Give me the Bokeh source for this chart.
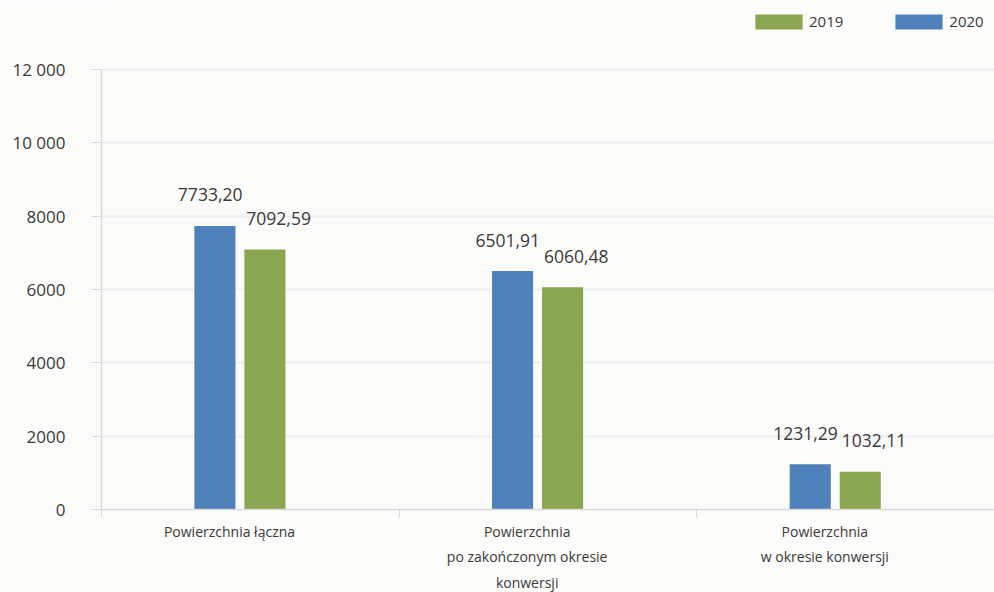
import numpy as np
from bokeh.plotting import figure
from bokeh.models import (ColumnDataSource, Range1d, FixedTicker, Legend, LegendItem)
from bokeh.transform import dodge
from bokeh.core.properties import value
from bokeh.embed import file_html
from bokeh.resources import INLINE

categories = ["Powierzchnia łączna",
              "Powierzchnia\npo zakończonym okresie\nkonwersji",
              "Powierzchnia\nw okresie konwersji"]
values_2020 = [7733.20, 6501.91, 1231.29]
values_2019 = [7092.59, 6060.48, 1032.11]
y_ticks = [0, 2000, 4000, 6000, 8000, 10000, 12000]
y_tick_labels = ["0", "2000", "4000", "6000", "8000", "10 000", "12 000"]
series_names = ["2019", "2020"]

BLUE = "#4f81bb"
GREEN = "#8ba651"
FONT = "Open Sans"
TXT = "#3a3a3a"

idx = np.arange(len(categories)) + 0.5
fmt = lambda v: f"{v:.2f}".replace(".", ",")
src = ColumnDataSource(dict(
    idx=idx,
    v2020=values_2020, v2019=values_2019,
    l2020=[fmt(v) for v in values_2020],
    l2019=[fmt(v) for v in values_2019],
))

FH = 509
y_top = 12000 * FH / 440.0

p = figure(width=994, height=592, output_backend="svg", toolbar_location=None,
           x_range=Range1d(0, len(categories)), y_range=Range1d(0, y_top),
           frame_width=893, frame_height=FH,
           min_border_left=101, min_border_right=0, min_border_top=0, min_border_bottom=83)
p.outline_line_color = None
p.background_fill_color = "#fbfbf9"
p.border_fill_color = "#fbfbf9"

r20 = p.vbar(x=dodge("idx", -0.119, range=p.x_range), top="v2020", width=0.138, source=src,
             fill_color=BLUE, line_color=None)
r19 = p.vbar(x=dodge("idx", 0.049, range=p.x_range), top="v2019", width=0.138, source=src,
             fill_color=GREEN, line_color=None)

p.text(x=dodge("idx", -0.135, range=p.x_range), y="v2020", text="l2020", source=src,
       y_offset=-31, text_align="center", text_baseline="middle",
       text_font=value(FONT), text_font_size="17.5px", text_color=TXT)
p.text(x=dodge("idx", 0.095, range=p.x_range), y="v2019", text="l2019", source=src,
       y_offset=-31, text_align="center", text_baseline="middle",
       text_font=value(FONT), text_font_size="17.5px", text_color=TXT)

# y axis
ya = p.yaxis[0]
ya.ticker = FixedTicker(ticks=y_ticks)
ya.major_label_overrides = {t: l for t, l in zip(y_ticks, y_tick_labels)}
ya.bounds = (0, 12000)
ya.axis_line_color = "#d9d9d9"
ya.axis_line_width = 1.5
ya.major_tick_line_color = "#d9d9d9"
ya.major_tick_out = 10
ya.major_tick_in = 0
ya.minor_tick_line_color = None
ya.major_label_standoff = 26
ya.major_label_text_font = FONT
ya.major_label_text_font_size = "17px"
ya.major_label_text_color = TXT

# x axis
xa = p.xaxis[0]
xa.ticker = FixedTicker(ticks=list(idx - 0.07), minor_ticks=list(range(len(categories) + 1)))
xa.major_label_overrides = {float(t): c for t, c in zip(idx - 0.07, categories)}
xa.axis_line_color = "#d9d9d9"
xa.axis_line_width = 1.5
xa.major_tick_line_color = None
xa.minor_tick_line_color = "#d9d9d9"
xa.minor_tick_out = 8
xa.minor_tick_in = 0
xa.major_label_standoff = 4
xa.major_label_text_font = FONT
xa.major_label_text_font_size = "14px"
xa.major_label_text_color = TXT
xa.major_label_text_line_height = 1.35

p.xgrid.grid_line_color = None
p.ygrid.grid_line_color = "#eeeeee"
p.ygrid.grid_line_width = 2

legend = Legend(items=[LegendItem(label=series_names[0], renderers=[r19]),
                       LegendItem(label=series_names[1], renderers=[r20])],
                orientation="horizontal", location=(648, 478),
                glyph_width=59, glyph_height=19, label_standoff=1, spacing=46,
                padding=0, margin=0,
                border_line_color=None, background_fill_alpha=0,
                label_text_font=FONT, label_text_font_size="15px", label_text_color=TXT)
p.add_layout(legend)

open("out.html", "w").write(file_html(p, INLINE))
